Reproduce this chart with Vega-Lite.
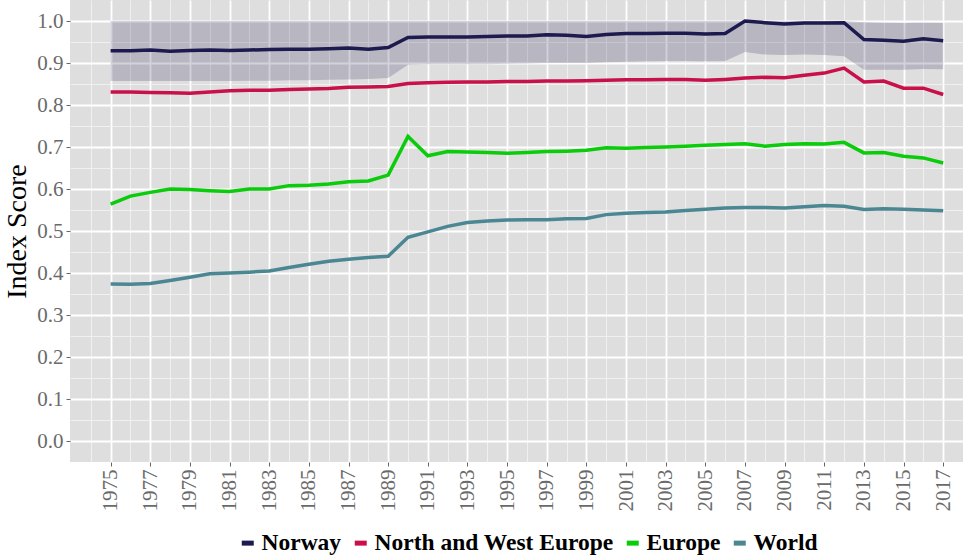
{
  "$schema": "https://vega.github.io/schema/vega-lite/v6.json",
  "width": 893,
  "height": 462,
  "autosize": {"type": "none"},
  "padding": {"left": 70, "top": 0, "right": 2, "bottom": 98},
  "background": "white",
  "config": {
    "view": {"fill": "#dedede", "stroke": null},
    "font": "Liberation Serif",
    "axis": {"labelFont": "Liberation Serif", "titleFont": "Liberation Serif"},
    "legend": {"labelFont": "Liberation Serif"}
  },
  "datasets": {
    "band": [
      {"year": 1975, "lo": 0.857, "hi": 1.0}, {"year": 1976, "lo": 0.857, "hi": 1.0}, {"year": 1977, "lo": 0.857, "hi": 1.0},
      {"year": 1978, "lo": 0.857, "hi": 1.0}, {"year": 1979, "lo": 0.857, "hi": 1.0}, {"year": 1980, "lo": 0.857, "hi": 1.0},
      {"year": 1981, "lo": 0.857, "hi": 1.0}, {"year": 1982, "lo": 0.858, "hi": 1.0}, {"year": 1983, "lo": 0.858, "hi": 1.0},
      {"year": 1984, "lo": 0.859, "hi": 1.0}, {"year": 1985, "lo": 0.859, "hi": 1.0}, {"year": 1986, "lo": 0.860, "hi": 1.0},
      {"year": 1987, "lo": 0.861, "hi": 1.0}, {"year": 1988, "lo": 0.862, "hi": 1.0}, {"year": 1989, "lo": 0.864, "hi": 1.0},
      {"year": 1990, "lo": 0.896, "hi": 1.0}, {"year": 1991, "lo": 0.897, "hi": 1.0}, {"year": 1992, "lo": 0.897, "hi": 1.0},
      {"year": 1993, "lo": 0.897, "hi": 1.0}, {"year": 1994, "lo": 0.897, "hi": 1.0}, {"year": 1995, "lo": 0.898, "hi": 1.0},
      {"year": 1996, "lo": 0.899, "hi": 1.0}, {"year": 1997, "lo": 0.900, "hi": 1.0}, {"year": 1998, "lo": 0.900, "hi": 1.0},
      {"year": 1999, "lo": 0.900, "hi": 1.0}, {"year": 2000, "lo": 0.902, "hi": 1.0}, {"year": 2001, "lo": 0.903, "hi": 1.0},
      {"year": 2002, "lo": 0.904, "hi": 1.0}, {"year": 2003, "lo": 0.905, "hi": 1.0}, {"year": 2004, "lo": 0.905, "hi": 1.0},
      {"year": 2005, "lo": 0.904, "hi": 1.0}, {"year": 2006, "lo": 0.905, "hi": 1.0}, {"year": 2007, "lo": 0.926, "hi": 1.0},
      {"year": 2008, "lo": 0.920, "hi": 1.0}, {"year": 2009, "lo": 0.919, "hi": 1.0}, {"year": 2010, "lo": 0.920, "hi": 1.0},
      {"year": 2011, "lo": 0.919, "hi": 1.0}, {"year": 2012, "lo": 0.916, "hi": 1.0}, {"year": 2013, "lo": 0.884, "hi": 0.997},
      {"year": 2014, "lo": 0.884, "hi": 0.996}, {"year": 2015, "lo": 0.884, "hi": 0.995}, {"year": 2016, "lo": 0.886, "hi": 0.996},
      {"year": 2017, "lo": 0.885, "hi": 0.995}
    ],
    "lines": [
      {"year": 1975, "series": "Norway", "value": 0.929}, {"year": 1976, "series": "Norway", "value": 0.929},
      {"year": 1977, "series": "Norway", "value": 0.931}, {"year": 1978, "series": "Norway", "value": 0.928},
      {"year": 1979, "series": "Norway", "value": 0.930}, {"year": 1980, "series": "Norway", "value": 0.931},
      {"year": 1981, "series": "Norway", "value": 0.930}, {"year": 1982, "series": "Norway", "value": 0.931},
      {"year": 1983, "series": "Norway", "value": 0.932}, {"year": 1984, "series": "Norway", "value": 0.933},
      {"year": 1985, "series": "Norway", "value": 0.933}, {"year": 1986, "series": "Norway", "value": 0.934},
      {"year": 1987, "series": "Norway", "value": 0.936}, {"year": 1988, "series": "Norway", "value": 0.933},
      {"year": 1989, "series": "Norway", "value": 0.937}, {"year": 1990, "series": "Norway", "value": 0.961},
      {"year": 1991, "series": "Norway", "value": 0.962}, {"year": 1992, "series": "Norway", "value": 0.962},
      {"year": 1993, "series": "Norway", "value": 0.962}, {"year": 1994, "series": "Norway", "value": 0.963},
      {"year": 1995, "series": "Norway", "value": 0.964}, {"year": 1996, "series": "Norway", "value": 0.964},
      {"year": 1997, "series": "Norway", "value": 0.967}, {"year": 1998, "series": "Norway", "value": 0.966},
      {"year": 1999, "series": "Norway", "value": 0.963}, {"year": 2000, "series": "Norway", "value": 0.968},
      {"year": 2001, "series": "Norway", "value": 0.970}, {"year": 2002, "series": "Norway", "value": 0.970},
      {"year": 2003, "series": "Norway", "value": 0.971}, {"year": 2004, "series": "Norway", "value": 0.971},
      {"year": 2005, "series": "Norway", "value": 0.969}, {"year": 2006, "series": "Norway", "value": 0.970},
      {"year": 2007, "series": "Norway", "value": 1.000}, {"year": 2008, "series": "Norway", "value": 0.996},
      {"year": 2009, "series": "Norway", "value": 0.993}, {"year": 2010, "series": "Norway", "value": 0.995},
      {"year": 2011, "series": "Norway", "value": 0.995}, {"year": 2012, "series": "Norway", "value": 0.996},
      {"year": 2013, "series": "Norway", "value": 0.956}, {"year": 2014, "series": "Norway", "value": 0.954},
      {"year": 2015, "series": "Norway", "value": 0.952}, {"year": 2016, "series": "Norway", "value": 0.958},
      {"year": 2017, "series": "Norway", "value": 0.953},

      {"year": 1975, "series": "North and West Europe", "value": 0.831}, {"year": 1976, "series": "North and West Europe", "value": 0.831},
      {"year": 1977, "series": "North and West Europe", "value": 0.830}, {"year": 1978, "series": "North and West Europe", "value": 0.829},
      {"year": 1979, "series": "North and West Europe", "value": 0.828}, {"year": 1980, "series": "North and West Europe", "value": 0.831},
      {"year": 1981, "series": "North and West Europe", "value": 0.834}, {"year": 1982, "series": "North and West Europe", "value": 0.835},
      {"year": 1983, "series": "North and West Europe", "value": 0.835}, {"year": 1984, "series": "North and West Europe", "value": 0.837},
      {"year": 1985, "series": "North and West Europe", "value": 0.838}, {"year": 1986, "series": "North and West Europe", "value": 0.839},
      {"year": 1987, "series": "North and West Europe", "value": 0.842}, {"year": 1988, "series": "North and West Europe", "value": 0.843},
      {"year": 1989, "series": "North and West Europe", "value": 0.844}, {"year": 1990, "series": "North and West Europe", "value": 0.851},
      {"year": 1991, "series": "North and West Europe", "value": 0.853}, {"year": 1992, "series": "North and West Europe", "value": 0.854},
      {"year": 1993, "series": "North and West Europe", "value": 0.855}, {"year": 1994, "series": "North and West Europe", "value": 0.855},
      {"year": 1995, "series": "North and West Europe", "value": 0.856}, {"year": 1996, "series": "North and West Europe", "value": 0.856},
      {"year": 1997, "series": "North and West Europe", "value": 0.857}, {"year": 1998, "series": "North and West Europe", "value": 0.857},
      {"year": 1999, "series": "North and West Europe", "value": 0.858}, {"year": 2000, "series": "North and West Europe", "value": 0.859},
      {"year": 2001, "series": "North and West Europe", "value": 0.860}, {"year": 2002, "series": "North and West Europe", "value": 0.860},
      {"year": 2003, "series": "North and West Europe", "value": 0.861}, {"year": 2004, "series": "North and West Europe", "value": 0.861},
      {"year": 2005, "series": "North and West Europe", "value": 0.859}, {"year": 2006, "series": "North and West Europe", "value": 0.861},
      {"year": 2007, "series": "North and West Europe", "value": 0.864}, {"year": 2008, "series": "North and West Europe", "value": 0.866},
      {"year": 2009, "series": "North and West Europe", "value": 0.865}, {"year": 2010, "series": "North and West Europe", "value": 0.871},
      {"year": 2011, "series": "North and West Europe", "value": 0.876}, {"year": 2012, "series": "North and West Europe", "value": 0.888},
      {"year": 2013, "series": "North and West Europe", "value": 0.855}, {"year": 2014, "series": "North and West Europe", "value": 0.857},
      {"year": 2015, "series": "North and West Europe", "value": 0.840}, {"year": 2016, "series": "North and West Europe", "value": 0.840},
      {"year": 2017, "series": "North and West Europe", "value": 0.825},

      {"year": 1975, "series": "Europe", "value": 0.564}, {"year": 1976, "series": "Europe", "value": 0.583},
      {"year": 1977, "series": "Europe", "value": 0.592}, {"year": 1978, "series": "Europe", "value": 0.600},
      {"year": 1979, "series": "Europe", "value": 0.599}, {"year": 1980, "series": "Europe", "value": 0.596},
      {"year": 1981, "series": "Europe", "value": 0.594}, {"year": 1982, "series": "Europe", "value": 0.600},
      {"year": 1983, "series": "Europe", "value": 0.600}, {"year": 1984, "series": "Europe", "value": 0.608},
      {"year": 1985, "series": "Europe", "value": 0.609}, {"year": 1986, "series": "Europe", "value": 0.612},
      {"year": 1987, "series": "Europe", "value": 0.617}, {"year": 1988, "series": "Europe", "value": 0.619},
      {"year": 1989, "series": "Europe", "value": 0.633}, {"year": 1990, "series": "Europe", "value": 0.725},
      {"year": 1991, "series": "Europe", "value": 0.679}, {"year": 1992, "series": "Europe", "value": 0.689},
      {"year": 1993, "series": "Europe", "value": 0.688}, {"year": 1994, "series": "Europe", "value": 0.687},
      {"year": 1995, "series": "Europe", "value": 0.685}, {"year": 1996, "series": "Europe", "value": 0.687},
      {"year": 1997, "series": "Europe", "value": 0.689}, {"year": 1998, "series": "Europe", "value": 0.690},
      {"year": 1999, "series": "Europe", "value": 0.692}, {"year": 2000, "series": "Europe", "value": 0.698},
      {"year": 2001, "series": "Europe", "value": 0.697}, {"year": 2002, "series": "Europe", "value": 0.699},
      {"year": 2003, "series": "Europe", "value": 0.700}, {"year": 2004, "series": "Europe", "value": 0.702},
      {"year": 2005, "series": "Europe", "value": 0.704}, {"year": 2006, "series": "Europe", "value": 0.706},
      {"year": 2007, "series": "Europe", "value": 0.708}, {"year": 2008, "series": "Europe", "value": 0.702},
      {"year": 2009, "series": "Europe", "value": 0.706}, {"year": 2010, "series": "Europe", "value": 0.708},
      {"year": 2011, "series": "Europe", "value": 0.707}, {"year": 2012, "series": "Europe", "value": 0.711},
      {"year": 2013, "series": "Europe", "value": 0.686}, {"year": 2014, "series": "Europe", "value": 0.687},
      {"year": 2015, "series": "Europe", "value": 0.678}, {"year": 2016, "series": "Europe", "value": 0.674},
      {"year": 2017, "series": "Europe", "value": 0.662},

      {"year": 1975, "series": "World", "value": 0.374}, {"year": 1976, "series": "World", "value": 0.373},
      {"year": 1977, "series": "World", "value": 0.375}, {"year": 1978, "series": "World", "value": 0.382},
      {"year": 1979, "series": "World", "value": 0.390}, {"year": 1980, "series": "World", "value": 0.398},
      {"year": 1981, "series": "World", "value": 0.400}, {"year": 1982, "series": "World", "value": 0.402},
      {"year": 1983, "series": "World", "value": 0.405}, {"year": 1984, "series": "World", "value": 0.413},
      {"year": 1985, "series": "World", "value": 0.421}, {"year": 1986, "series": "World", "value": 0.428},
      {"year": 1987, "series": "World", "value": 0.433}, {"year": 1988, "series": "World", "value": 0.437},
      {"year": 1989, "series": "World", "value": 0.440}, {"year": 1990, "series": "World", "value": 0.485},
      {"year": 1991, "series": "World", "value": 0.498}, {"year": 1992, "series": "World", "value": 0.511},
      {"year": 1993, "series": "World", "value": 0.520}, {"year": 1994, "series": "World", "value": 0.524},
      {"year": 1995, "series": "World", "value": 0.526}, {"year": 1996, "series": "World", "value": 0.527},
      {"year": 1997, "series": "World", "value": 0.527}, {"year": 1998, "series": "World", "value": 0.529},
      {"year": 1999, "series": "World", "value": 0.530}, {"year": 2000, "series": "World", "value": 0.539},
      {"year": 2001, "series": "World", "value": 0.542}, {"year": 2002, "series": "World", "value": 0.544},
      {"year": 2003, "series": "World", "value": 0.545}, {"year": 2004, "series": "World", "value": 0.549},
      {"year": 2005, "series": "World", "value": 0.552}, {"year": 2006, "series": "World", "value": 0.555},
      {"year": 2007, "series": "World", "value": 0.556}, {"year": 2008, "series": "World", "value": 0.556},
      {"year": 2009, "series": "World", "value": 0.555}, {"year": 2010, "series": "World", "value": 0.558},
      {"year": 2011, "series": "World", "value": 0.561}, {"year": 2012, "series": "World", "value": 0.559},
      {"year": 2013, "series": "World", "value": 0.551}, {"year": 2014, "series": "World", "value": 0.553},
      {"year": 2015, "series": "World", "value": 0.552}, {"year": 2016, "series": "World", "value": 0.550},
      {"year": 2017, "series": "World", "value": 0.548}
    ]
  },
  "layer": [
    {
      "data": {"name": "band"},
      "mark": {"type": "area", "color": "#1c1a4e", "opacity": 0.2},
      "encoding": {
        "x": {
          "field": "year", "type": "quantitative",
          "scale": {"domain": [1972.95, 2018.0], "nice": false, "zero": false},
          "axis": {
            "orient": "bottom",
            "values": [1974, 1976, 1978, 1980, 1982, 1984, 1986, 1988, 1990, 1992, 1994, 1996, 1998, 2000, 2002, 2004, 2006, 2008, 2010, 2012, 2014, 2016],
            "grid": true, "gridColor": "#f2f2f2", "gridWidth": 0.9,
            "labels": false, "ticks": false, "domain": false, "title": null
          }
        },
        "y": {
          "field": "lo", "type": "quantitative",
          "scale": {"domain": [-0.05, 1.05], "nice": false, "zero": false},
          "axis": {
            "orient": "left",
            "values": [0.05, 0.15, 0.25, 0.35, 0.45, 0.55, 0.65, 0.75, 0.85, 0.95],
            "grid": true, "gridColor": "#f2f2f2", "gridWidth": 0.9,
            "labels": false, "ticks": false, "domain": false, "title": null
          }
        },
        "y2": {"field": "hi"}
      }
    },
    {
      "data": {"name": "lines"},
      "mark": {"type": "line", "strokeWidth": 3.5},
      "encoding": {
        "x": {
          "field": "year", "type": "quantitative",
          "axis": {
            "orient": "bottom",
            "values": [1975, 1977, 1979, 1981, 1983, 1985, 1987, 1989, 1991, 1993, 1995, 1997, 1999, 2001, 2003, 2005, 2007, 2009, 2011, 2013, 2015, 2017],
            "format": "d", "labelAngle": -90, "labelFontSize": 21, "labelColor": "#6a6a6a",
            "labelPadding": 3, "tickSize": 4, "tickColor": "#666666", "domain": false,
            "grid": true, "gridColor": "#ffffff", "gridWidth": 1.8, "title": null
          }
        },
        "y": {
          "field": "value", "type": "quantitative",
          "axis": {
            "orient": "left",
            "values": [0, 0.1, 0.2, 0.3, 0.4, 0.5, 0.6, 0.7, 0.8, 0.9, 1.0],
            "format": ".1f", "labelFontSize": 21, "labelColor": "#6a6a6a",
            "labelPadding": 3, "tickSize": 4, "tickColor": "#666666", "domain": false,
            "grid": true, "gridColor": "#ffffff", "gridWidth": 1.8,
            "title": "Index Score", "titleFontSize": 28, "titleFontWeight": "normal",
            "titleColor": "#000000", "titlePadding": 5
          }
        },
        "color": {
          "field": "series", "type": "nominal",
          "scale": {
            "domain": ["Norway", "North and West Europe", "Europe", "World"],
            "range": ["#1c1a4e", "#c8104a", "#0acc0a", "#4a8793"]
          },
          "legend": {
            "title": null, "orient": "none", "direction": "horizontal",
            "legendX": 166, "legendY": 531,
            "symbolType": "stroke", "symbolSize": 144, "symbolStrokeWidth": 5,
            "labelFontSize": 23.5, "labelFontWeight": "bold", "labelColor": "#000000",
            "labelOffset": 2, "columnPadding": 2,
            "labelLimit": 400
          }
        }
      }
    }
  ],
  "resolve": {"axis": {"x": "independent", "y": "independent"}}
}
